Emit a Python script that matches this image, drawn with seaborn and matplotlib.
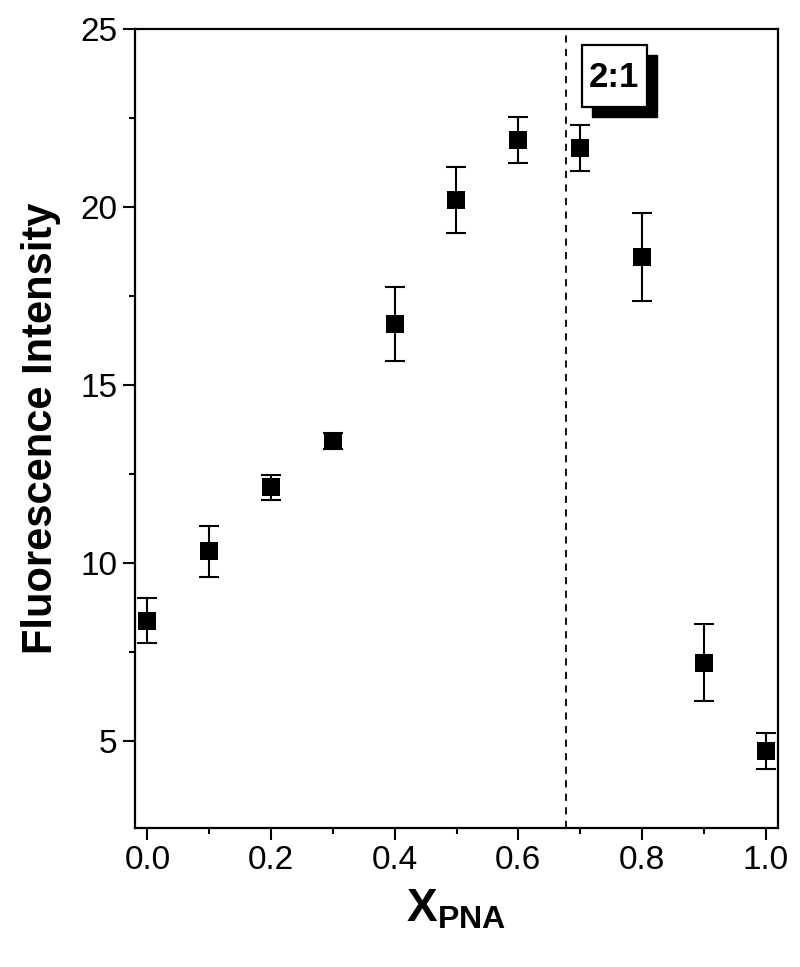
import matplotlib
matplotlib.use("Agg")
import matplotlib.pyplot as plt
from matplotlib.patches import Rectangle
from matplotlib.ticker import MultipleLocator, FormatStrFormatter
import pandas as pd
import seaborn as sns

# --- DATA ---
x_pna = [0.0, 0.1, 0.2, 0.3, 0.4, 0.5, 0.6, 0.7, 0.8, 0.9, 1.0]
intensity = [8.38, 10.32, 12.12, 13.42, 16.70, 20.19, 21.88, 21.65, 18.60, 7.20, 4.72]
err = [0.62, 0.73, 0.35, 0.22, 1.04, 0.92, 0.65, 0.64, 1.24, 1.08, 0.50]
stoich_x = 0.677
stoich_label = "2:1"

df = pd.DataFrame({"x": x_pna, "y": intensity, "err": err})

# --- STYLE ---
sns.set_style("ticks")
plt.rcParams['font.family'] = ['Liberation Sans', 'DejaVu Sans']
plt.rcParams['mathtext.fontset'] = 'custom'
plt.rcParams['mathtext.rm'] = 'Liberation Sans'
plt.rcParams['mathtext.bf'] = 'Liberation Sans:bold'
plt.rcParams['text.color'] = 'black'
plt.rcParams['axes.labelcolor'] = 'black'
plt.rcParams['xtick.color'] = 'black'
plt.rcParams['ytick.color'] = 'black'

fig = plt.figure(figsize=(8, 9.67), dpi=100)
ax = fig.add_axes([0.16875, 0.1437, 0.80375, 0.8263])

# error bars first, markers on top
ax.errorbar(df["x"], df["y"], yerr=df["err"], fmt='none', ecolor='black',
            elinewidth=1.5, capsize=7, capthick=1.5, zorder=2)
sns.scatterplot(data=df, x="x", y="y", marker='s', s=150, color='black',
                edgecolor='black', linewidth=0, ax=ax, zorder=3)

# stoichiometry line
ax.axvline(stoich_x, color='black', linestyle=(0, (4, 3.5)), linewidth=1.3, zorder=1)

# "2:1" box with drop shadow
ax.add_patch(Rectangle((0.711, 0.890), 0.101, 0.078, transform=ax.transAxes,
                       facecolor='black', edgecolor='black', zorder=4))
ax.add_patch(Rectangle((0.695, 0.902), 0.101, 0.078, transform=ax.transAxes,
                       facecolor='white', edgecolor='black', linewidth=1.6, zorder=5))
ax.text(0.7455, 0.939, stoich_label, transform=ax.transAxes, fontsize=25,
        fontweight='bold', ha='center', va='center', zorder=6)

# axes
ax.set_xlim(-0.02, 1.02)
ax.set_ylim(2.55, 25)
ax.xaxis.set_major_locator(MultipleLocator(0.2))
ax.xaxis.set_minor_locator(MultipleLocator(0.1))
ax.yaxis.set_major_locator(MultipleLocator(5))
ax.yaxis.set_minor_locator(MultipleLocator(2.5))
ax.xaxis.set_major_formatter(FormatStrFormatter('%.1f'))
ax.tick_params(which='major', length=8.5, width=1.5, labelsize=24, pad=4, direction='out')
ax.tick_params(which='minor', length=4.5, width=1.5, direction='out')
for sp in ax.spines.values():
    sp.set_linewidth(1.6)
    sp.set_color('black')

ax.set_xlabel(r'$\mathbf{X}_{\mathbf{PNA}}$', fontsize=33, labelpad=8)
ax.set_ylabel("Fluorescence Intensity", fontsize=30, fontweight='bold', labelpad=14)

fig.savefig("out.png", dpi=100)
